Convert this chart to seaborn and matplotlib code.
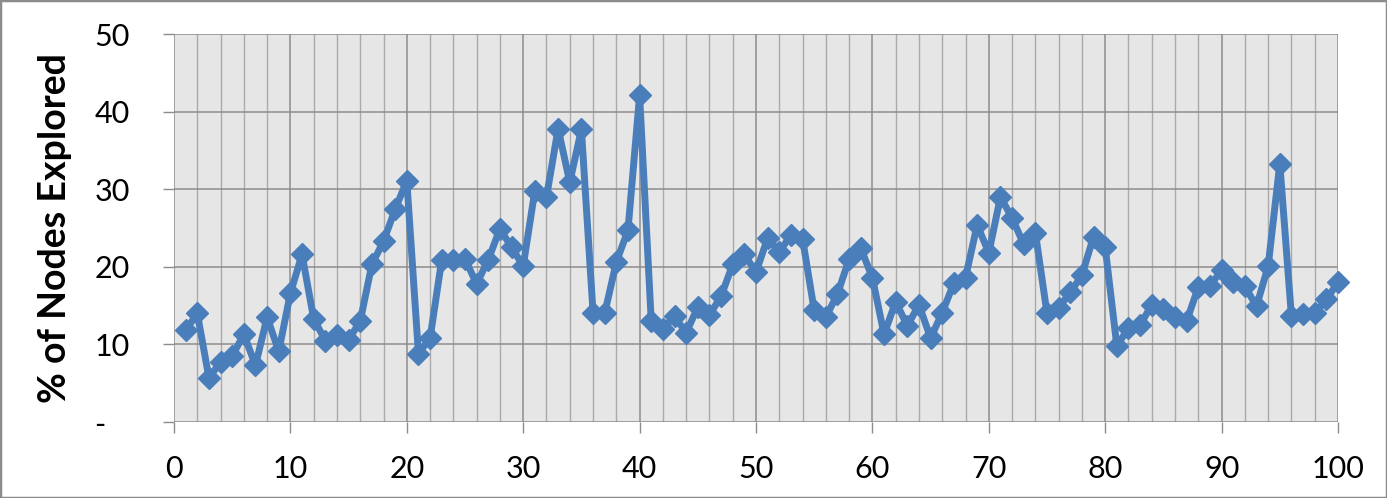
import numpy as np
import pandas as pd
import matplotlib
matplotlib.use("Agg")
import matplotlib.pyplot as plt
from matplotlib.patches import Rectangle
from matplotlib.ticker import MultipleLocator, FixedLocator
import seaborn as sns

runs = list(range(1, 101))
pct_explored = [
    11.8, 14.0, 5.7, 7.7, 8.5, 11.3, 7.3, 13.5, 9.1, 16.6,
    21.6, 13.3, 10.5, 11.2, 10.6, 13.0, 20.3, 23.3, 27.4, 31.1,
    8.8, 10.8, 20.9, 20.9, 21.0, 17.8, 20.9, 24.9, 22.5, 20.1,
    29.8, 29.0, 37.8, 30.9, 37.7, 14.1, 14.0, 20.6, 24.7, 42.1,
    13.0, 12.0, 13.6, 11.5, 14.8, 13.8, 16.2, 20.3, 21.6, 19.3,
    23.7, 21.9, 24.1, 23.6, 14.4, 13.5, 16.5, 21.0, 22.4, 18.6,
    11.3, 15.5, 12.4, 15.1, 10.8, 14.1, 17.9, 18.6, 25.4, 21.8,
    29.0, 26.3, 22.9, 24.4, 14.0, 14.7, 16.7, 18.9, 23.9, 22.5,
    9.8, 12.1, 12.5, 15.1, 14.6, 13.5, 13.0, 17.4, 17.5, 19.6,
    18.1, 17.5, 14.9, 20.1, 33.3, 13.6, 13.9, 14.0, 15.8, 18.0,
]
y_ticks = [0, 10, 20, 30, 40, 50]
y_tick_labels = ["-\u00a0\u00a0\u00a0", "10", "20", "30", "40", "50"]
x_ticks = list(range(0, 101, 10))
y_label = "% of Nodes Explored"

df = pd.DataFrame({"run": runs, "pct": pct_explored})

sns.set_theme(style="white")
plt.rcParams["font.family"] = ["Lato", "DejaVu Sans"]

fig = plt.figure(figsize=(13.87, 4.98), dpi=100)
ax = fig.add_axes([174 / 1387, 1 - 422 / 498, (1338 - 174) / 1387, (422 - 34) / 498])
ax.set_facecolor("#E6E6E6")

sns.lineplot(data=df, x="run", y="pct", ax=ax, color="#4A7EBB", linewidth=5,
             marker="D", markersize=11, markeredgecolor="#4A7EBB",
             markeredgewidth=1, zorder=5, clip_on=False)

ax.set_xlim(0, 100)
ax.set_ylim(0, 50)
ax.xaxis.set_major_locator(FixedLocator(x_ticks))
ax.xaxis.set_minor_locator(MultipleLocator(2))
ax.yaxis.set_major_locator(FixedLocator(y_ticks))
ax.set_yticklabels(y_tick_labels)
ax.set_xticklabels([str(v) for v in x_ticks])

ax.grid(which="major", axis="both", color="#8C8C8C", linewidth=1.1, zorder=0)
ax.grid(which="minor", axis="x", color="#AAAAAA", linewidth=1.0, zorder=0)
ax.set_axisbelow(True)
for s in ax.spines.values():
    s.set_visible(False)

ax.tick_params(axis="y", which="major", left=True, length=8, width=1, color="#8C8C8C",
               pad=24, labelsize=22, labelcolor="black")
ax.tick_params(axis="x", which="major", bottom=True, length=8, width=1, color="#8C8C8C",
               pad=16, labelsize=22, labelcolor="black")
ax.tick_params(axis="x", which="minor", bottom=False, length=0)

ax.set_xlabel("")
ax.set_ylabel(y_label, fontsize=27, fontweight="bold", labelpad=16, color="black")

fig.add_artist(Rectangle((0, 0), 1, 1, transform=fig.transFigure, fill=False,
                         edgecolor="#8C8C8C", linewidth=2.5))

fig.savefig("out.png", dpi=100)
